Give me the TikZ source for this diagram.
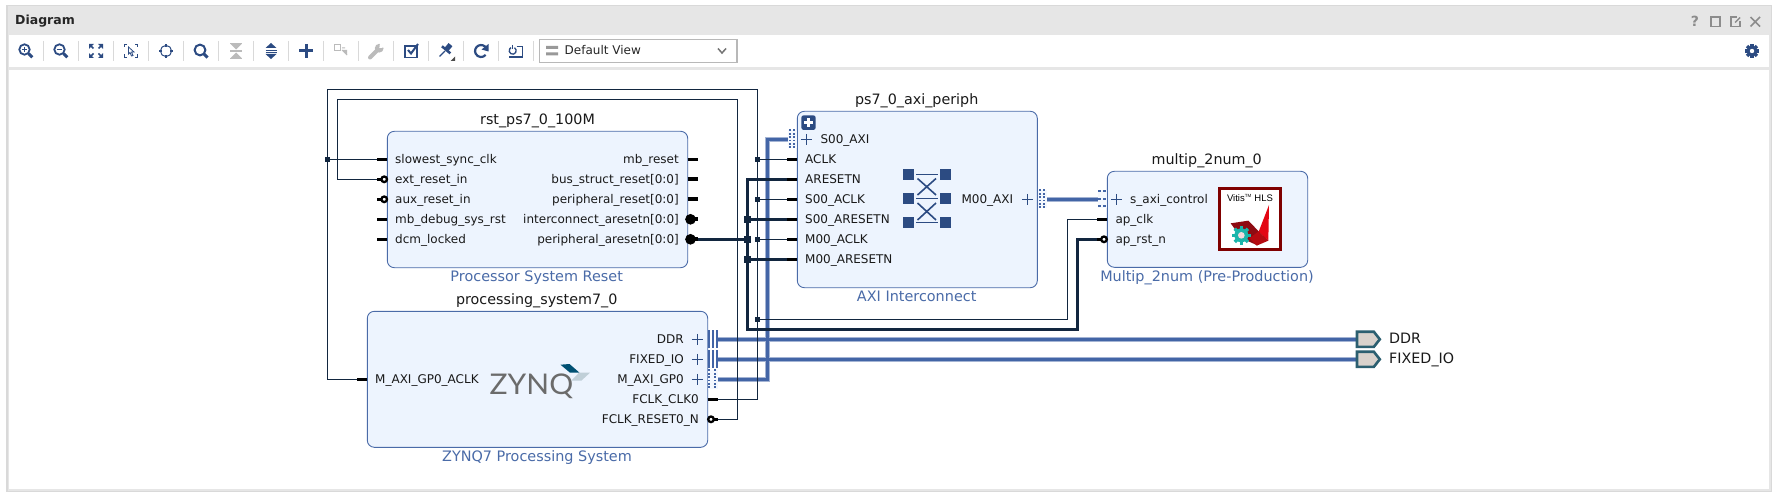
\documentclass[tikz,border=0pt]{standalone}
\usepackage{fontspec}
\setmainfont{DejaVu Sans}
\newfontfamily\logofont{Lato}
\newfontfamily\vitisfont{Liberation Sans}
\definecolor{blk}{HTML}{EDF4FE}
\definecolor{edgeb}{HTML}{4A6BA8}
\definecolor{thinw}{HTML}{12263F}
\definecolor{busw}{HTML}{4365A6}
\definecolor{hal}{HTML}{A4B4D4}
\definecolor{ico}{HTML}{2C4B82}
\definecolor{gic}{HTML}{BBBBBB}
\definecolor{hdr}{HTML}{E6E6E6}
\definecolor{hdrp}{HTML}{2C5F70}
\definecolor{hdrf}{HTML}{D9D2CC}
\definecolor{zteal}{HTML}{005073}
\definecolor{zpale}{HTML}{C0CFD8}
\definecolor{vmaroon}{HTML}{800000}
\definecolor{vdark}{HTML}{8E0B12}
\definecolor{vbright}{HTML}{E30613}
\definecolor{vmid}{HTML}{B50A10}
\definecolor{vgear}{HTML}{1AB5AB}
\definecolor{vhole}{HTML}{F3D9DC}
\tikzset{
 block/.style={draw=edgeb,fill=blk,line width=0.9,rounded corners=7,inner sep=0},
 title/.style={font=\fontsize{14.3}{16}\selectfont,text=black!90,inner sep=0,anchor=mid,yshift=-1.8pt},
 subtitle/.style={font=\fontsize{14.4}{16}\selectfont,text=edgeb,inner sep=0,anchor=mid,yshift=-1.8pt},
 lbl/.style={font=\fontsize{12}{14}\selectfont,text=black!90,inner sep=0,yshift=-1pt},
 lw/.style={lbl,anchor=mid west},
 le/.style={lbl,anchor=mid east},
 stub/.style={draw=black,line width=3},
 wirethin/.style={draw=thinw,line width=1},
 wirethick/.style={draw=thinw,line width=3.2,line join=miter},
 bushalo/.style={draw=hal,line width=5.2,line join=miter},
 buscore/.style={draw=busw,line width=3.2,line join=miter},
 jthin/.style={fill=thinw,minimum size=5,inner sep=0},
 jthick/.style={fill=thinw,minimum size=7,inner sep=0},
 invpin/.style={circle,draw=black,fill=white,line width=2.3,minimum size=5.6,inner sep=0},
 invbus/.style={circle,draw=black,fill=black,line width=1,minimum size=9.6,inner sep=0},
 plusi/.style={draw=ico,line width=0.9},
 ic/.style={draw=ico,line width=1.8},
 gi/.style={draw=gic,line width=1.8},
 port/.style={draw=hdrp,fill=hdrf,line width=2.6,line join=miter},
 extl/.style={anchor=mid west,inner sep=0,font=\fontsize{14.3}{16}\selectfont,text=black!90,yshift=-1.8pt},
}
\begin{document}
\begin{tikzpicture}[x=1pt,y=-1pt]
\useasboundingbox (0,0) rectangle (1778,497);
\fill[white] (0,0) rectangle (1778,497);
% frame
\fill[black!15] (6,5) rectangle (1772,492);
\fill[hdr] (7.5,6.5) rectangle (1770.5,490.5);
\fill[white] (9,35) rectangle (1769,67);
\fill[white] (9,70) rectangle (1769,489);
\node[anchor=mid west,inner sep=0,font=\bfseries\fontsize{12.5}{14}\selectfont,text=black!85] (dtitle) at (15,21.5) {Diagram};
% window buttons
\node[inner sep=0,font=\bfseries\fontsize{14}{16}\selectfont,text=black!45] (qm) at (1695,21.5) {?};
\draw[black!45,line width=1.6] (1711,17) rectangle (1720,26.5);
\draw[black!45,line width=1.6] (1737,17) -- (1731,17) -- (1731,26.5) -- (1740,26.5) -- (1740,21);
\draw[black!45,line width=1.4] (1735,22.5) -- (1740,17.5);
\draw[black!45,line width=1.6] (1750.5,17) -- (1760,26.5) (1760,17) -- (1750.5,26.5);
% gear
\begin{scope}[shift={(1752,51)}]
\foreach \a in {0,45,...,315}{\fill[ico,rotate=\a] (-1.7,-7) rectangle (1.7,0);}
\fill[ico] (0,0) circle (5.3);
\fill[white] (0,0) circle (2.2);
\end{scope}
% toolbar separators
\foreach \x in {43.5,78.5,113.5,148.5,183.5,218.5,253.5,288.5,323.5,358.5,393.5,428.5,463.5,498.5,533.5}{\draw[black!15,line width=.9] (\x,41) -- (\x,61);}
% zoom in
\begin{scope}[shift={(26,51)}]
\draw[ic] (-1.5,-1.5) circle (5.2);\draw[ic,line width=3] (2.6,2.6) -- (6.3,6.3);
\draw[ico,line width=1.2] (-4.2,-1.5) -- (1.2,-1.5) (-1.5,-4.2) -- (-1.5,1.2);
\end{scope}
% zoom out
\begin{scope}[shift={(61,51)}]
\draw[ic] (-1.5,-1.5) circle (5.2);\draw[ic,line width=3] (2.6,2.6) -- (6.3,6.3);
\draw[ico,line width=1.2] (-4.2,-1.5) -- (1.2,-1.5);
\end{scope}
% fit
\begin{scope}[shift={(96,51)}]
\foreach \sx/\sy in {1/1,1/-1,-1/1,-1/-1}{
\fill[ico] (\sx*7,\sy*7) -- (\sx*2.2,\sy*7) -- (\sx*7,\sy*2.2) -- cycle;
\draw[ico,line width=1.6] (\sx*5,\sy*5) -- (\sx*2.5,\sy*2.5);}
\end{scope}
% fit selection
\begin{scope}[shift={(131,51)}]
\foreach \sx/\sy in {1/1,1/-1,-1/1,-1/-1}{
\draw[ico,line width=1.3] (\sx*4,\sy*6.5) -- (\sx*6.5,\sy*6.5) -- (\sx*6.5,\sy*3.5);}
\draw[ico,line width=.8] (-2.5,-4) -- (3,1) -- (.5,1) -- (2,4.5) -- (.5,5) -- (-1,1.5) -- (-2.5,3) -- cycle;
\end{scope}
% centre
\begin{scope}[shift={(166,51)}]
\draw[ico,line width=1] (0,0) circle (5.6);
\foreach \a in {0,90,180,270}{\draw[ico,line width=1.8,rotate=\a] (4,0) -- (7,0);}
\end{scope}
% search
\begin{scope}[shift={(201,51)}]
\draw[ic,line width=2] (-1,-1) circle (5.4);\draw[ic,line width=3] (3,3) -- (6.5,6.5);
\end{scope}
% collapse
\begin{scope}[shift={(236,51)}]
\fill[gic] (-5.5,-7) -- (5.5,-7) -- (0,-1.5) -- cycle;
\fill[gic] (-5.5,7) -- (5.5,7) -- (0,1.5) -- cycle;
\draw[gic,line width=1.2] (-6,0) -- (6,0) (-6,-7.5) -- (6,-7.5) (-6,7.5) -- (6,7.5);
\end{scope}
% expand
\begin{scope}[shift={(271,51)}]
\fill[ico] (-5.5,-3) -- (5.5,-3) -- (0,-8) -- cycle;
\fill[ico] (-5.5,3) -- (5.5,3) -- (0,8) -- cycle;
\draw[ico,line width=.9] (-5.5,-1) -- (5.5,-1) (-5.5,1) -- (5.5,1);
\end{scope}
% add
\draw[ico,line width=3] (299,51) -- (313,51) (306,44) -- (306,58);
% gray diagonal
\begin{scope}[shift={(341,51)}]
\draw[gic,line width=1] (-6.5,-6) rectangle (-.5,0);
\draw[gic,line width=1] (1,-3) -- (4,-3) (1,-1) -- (6,4);
\fill[gic] (1,-1) -- (6,-1) -- (6,4) -- cycle;
\end{scope}
% wrench
\begin{scope}[shift={(376,51)}]
\draw[gi,line width=4,line cap=round] (-6,6.5) -- (1.5,-1);
\fill[gic] (3.2,-2.8) circle (4.4);
\fill[white] (3.4,-3) -- (8.5,-3.5) -- (8,-8) -- (4,-8) -- cycle;
\end{scope}
% check
\begin{scope}[shift={(411,51)}]
\draw[ico,line width=1.5] (-6,-5) rectangle (6,6.5);
\draw[ico,line width=2] (-3,-1) -- (0,2.5) -- (7,-7);
\end{scope}
% pin
\begin{scope}[shift={(446,50)}]
\fill[ico,rotate=-40] (-2.5,-7) rectangle (2.5,-1);
\fill[ico,rotate=-40] (-5.5,-1.5) rectangle (5.5,1);
\draw[ico,line width=1.3] (-1,1) -- (-6.5,6.5);
\fill[black!70] (9,6.5) -- (9,11) -- (4.5,11) -- cycle;
\end{scope}
% refresh
\begin{scope}[shift={(481,51)}]
\draw[ic,line width=2.2] (5.5,-2.5) arc (-25:-320:6);
\fill[ico] (7.5,-7) -- (7.5,.5) -- (.5,-1.5) -- cycle;
\end{scope}
% regenerate
\begin{scope}[shift={(516,51)}]
\draw[ico,line width=1.3] (-1.55,-3.33) arc (-60:240:3.5);
\draw[ico,line width=1.3] (-3.3,-6) -- (-3.3,-2);
\draw[ico,line width=1.6] (.7,-4.3) -- (6.3,-4.3) -- (6.3,6.3) -- (-7,6.3);
\end{scope}
% dropdown
\draw[black!28,line width=1.2,fill=white] (539.5,39.5) rectangle (737,62.3);
\fill[black!40] (546,46) rectangle (558,49) (546,52.5) rectangle (558,55.5);
\node[anchor=mid west,inner sep=0,font=\fontsize{12}{14}\selectfont,text=black!85] (view) at (564.5,52) {Default View};
\draw[black!55,line width=1.5] (718,48.5) -- (722,53) -- (726,48.5);

% blocks
\node[block,minimum width=300.4,minimum height=136.4] (rst) at (537.5,199.5) {};
\node[block,minimum width=340.4,minimum height=136] (ps) at (537.5,379.3) {};
\node[block,minimum width=240,minimum height=176.4] (axi) at (917.3,199.5) {};
\node[block,minimum width=200.4,minimum height=96] (mul) at (1207.5,219.3) {};

% pin and route coordinates
\coordinate (pclk) at (377.3,159.3);
\coordinate (pext) at (377.3,179.3);
\coordinate (pgp) at (357.3,379.3);
\coordinate (pfclk) at (717.7,399.3);
\coordinate (pfrst) at (717.7,419.3);
\coordinate (ppa) at (697.7,239.3);
\coordinate (pddr) at (718,339.3);
\coordinate (pfix) at (718,359.3);
\coordinate (pgp0) at (718,379.3);
\coordinate (ps00) at (788,139.3);
\coordinate (pm00) at (1047,199.3);
\coordinate (pcontrol) at (1098,199.3);
\coordinate (paclk) at (787.3,159.3);
\coordinate (pares) at (787.3,179.3);
\coordinate (psclk) at (787.3,199.3);
\coordinate (psres) at (787.3,219.3);
\coordinate (pmclk) at (787.3,239.3);
\coordinate (pmres) at (787.3,259.3);
\coordinate (papclk) at (1097.3,219.3);
\coordinate (paprst) at (1097.3,239.3);
\coordinate (tddr) at (1357,339.3);
\coordinate (tfix) at (1357,359.3);
\coordinate (co1) at (757.7,89.3);
\coordinate (co2) at (327.3,89.3);
\coordinate (ci1) at (737.7,99.3);
\coordinate (ci2) at (337.3,99.3);
\coordinate (cb) at (767.7,139.3);
\coordinate (ctop) at (747.7,179.3);
\coordinate (cbot) at (747.7,329.3);
\coordinate (cr) at (1077.3,329.3);
\coordinate (cthin) at (1067.3,319.3);

% bus wires
\foreach \st in {bushalo,buscore}{
\draw[\st] (pddr) -- (tddr);
\draw[\st] (pfix) -- (tfix);
\draw[\st] (pgp0) -| (cb) -- (ps00);
\draw[\st] (pm00) -- (pcontrol);
}

% junctions
\node[jthin] (j1) at (327.3,159.3) {};
\node[jthin] (j2) at (757.7,159.3) {};
\node[jthin] (j3) at (757.7,199.3) {};
\node[jthin] (j4) at (757.7,239.3) {};
\node[jthin] (j5) at (757.7,319.3) {};
\node[jthick] (j6) at (747.7,219.3) {};
\node[jthick] (j7) at (747.7,239.3) {};
\node[jthick] (j8) at (747.7,259.3) {};

% thin wires
\draw[wirethin] (pfclk) -| (co1) -- (co2) -- (pgp -| co2) -- (pgp);
\draw[wirethin] (pfrst) -| (ci1) -- (ci2) |- (pext);
\draw[wirethin] (j1) -- (pclk);
\draw[wirethin] (j2) -- (paclk);
\draw[wirethin] (j3) -- (psclk);
\draw[wirethin] (j4) -- (pmclk);
\draw[wirethin] (j5) -| (cthin) |- (papclk);
% thick wires
\draw[wirethick] (pares) -- (ctop) -- (cbot) -- (cr) |- (paprst);
\draw[wirethick] (ppa) -- (j7);
\draw[wirethick] (j6) -- (psres);
\draw[wirethick] (j8) -- (pmres);

% stubs
\foreach \a in {159.3,179.3,199.3,219.3,239.3}{\draw[stub] (377.3,\a) -- (387.3,\a);}
\foreach \a in {159.3}{\draw[stub] (687.7,\a) -- (697.7,\a);}
\foreach \a in {179.3,199.3,219.3,239.3}{\draw[stub,line width=4] (687.7,\a) -- (697.7,\a);}
\foreach \a in {159.3,179.3,199.3,219.3,239.3,259.3}{\draw[stub] (787.3,\a) -- (797.3,\a);}
\draw[stub] (357.3,379.3) -- (367.3,379.3);
\draw[stub] (707.7,399.3) -- (717.7,399.3);
\draw[stub] (707.7,419.3) -- (717.7,419.3);
\draw[stub] (1097.3,219.3) -- (1107.3,219.3);
\draw[stub] (1097.3,239.3) -- (1107.3,239.3);
\node[invpin] (i1) at (384.2,179.3) {};
\node[invpin] (i2) at (384.2,199.3) {};
\node[invpin] (i3) at (711,419.3) {};
\node[invpin] (i4) at (1104,239.3) {};
\node[invbus] (i5) at (690.5,219.3) {};
\node[invbus] (i6) at (690.5,239.3) {};

% interface pins
\foreach \x in {708.6,712.6,716.6}{
\foreach \yy in {330,350}{\fill[busw] (\x-1,\yy) rectangle (\x+1,\yy+18);}}
\fill[blk!60!white] (707.5,370) rectangle (718,388.5);
\foreach \x in {709,714.5}{\foreach \d in {-9,-5.6,-2.2,1.2,4.6,8}{\fill[busw] (\x-1,379.3+\d-.9) rectangle (\x+1,379.3+\d+.9);}}
\fill[blk!60!white] (787.5,130) rectangle (797,148.5);
\foreach \x in {789.5,794}{\foreach \d in {-9,-5.6,-2.2,1.2,4.6,8}{\fill[busw] (\x-1,139.3+\d-.9) rectangle (\x+1,139.3+\d+.9);}}
\fill[blk!60!white] (1037.5,190) rectangle (1047,208.5);
\foreach \x in {1039.5,1044}{\foreach \d in {-9,-5.6,-2.2,1.2,4.6,8}{\fill[busw] (\x-1,199.3+\d-.9) rectangle (\x+1,199.3+\d+.9);}}
\fill[blk!60!white] (1098,190) rectangle (1107,208.5);
\foreach \x in {1099.5,1104.5}{\foreach \d in {-8,-.5,7}{\fill[busw] (\x-1.1,199.3+\d-1) rectangle (\x+1.1,199.3+\d+1);}}

% plus signs
\foreach \x/\y in {697.3/339.3,697.3/359.3,697.3/379.3,806.3/139.3,1027.7/199.3,1116.7/199.3}{
\draw[plusi] (\x-5.5,\y) -- (\x+5.5,\y) (\x,\y-5.5) -- (\x,\y+5.5);}

% texts
\node[title] (trst) at (537.5,120) {rst\_ps7\_0\_100M};
\node[subtitle] (srst) at (536.7,277) {Processor System Reset};
\node[lw] (l1) at (395,159.3) {slowest\_sync\_clk};
\node[lw] (l2) at (395,179.3) {ext\_reset\_in};
\node[lw] (l3) at (395,199.3) {aux\_reset\_in};
\node[lw] (l4) at (395,219.3) {mb\_debug\_sys\_rst};
\node[lw] (l5) at (395,239.3) {dcm\_locked};
\node[le] (r1) at (679,159.3) {mb\_reset};
\node[le] (r2) at (679,179.3) {bus\_struct\_reset[0:0]};
\node[le] (r3) at (679,199.3) {peripheral\_reset[0:0]};
\node[le] (r4) at (679,219.3) {interconnect\_aresetn[0:0]};
\node[le] (r5) at (679,239.3) {peripheral\_aresetn[0:0]};

\node[title] (tps) at (536.7,300) {processing\_system7\_0};
\node[subtitle] (sps) at (537,456.7) {ZYNQ7 Processing System};
\node[lw] (p1) at (375,379.3) {M\_AXI\_GP0\_ACLK};
\node[le] (p2) at (684,339.3) {DDR};
\node[le] (p3) at (684,359.3) {FIXED\_IO};
\node[le] (p4) at (684,379.3) {M\_AXI\_GP0};
\node[le] (p5) at (699,399.3) {FCLK\_CLK0};
\node[le] (p6) at (699,419.3) {FCLK\_RESET0\_N};
% zynq logo
\node[inner sep=0,font=\logofont\fontsize{28.5}{30}\selectfont,text=black!58,anchor=base west,xscale=1.05] (zq) at (489.5,394) {ZYNQ};
\fill[zteal] (560.5,364.7) -- (569.5,364) -- (579.5,372.7) -- (570,372.7) -- cycle;
\fill[zpale] (579,372.7) -- (590,372.7) -- (581.5,380.5) -- (571.5,380.5) -- cycle;

\node[title] (taxi) at (916.7,100) {ps7\_0\_axi\_periph};
\node[subtitle] (saxi) at (916.7,297) {AXI Interconnect};
\node[lw] (a0) at (820.3,139.3) {S00\_AXI};
\node[lw] (a1) at (805,159.3) {ACLK};
\node[lw] (a2) at (805,179.3) {ARESETN};
\node[lw] (a3) at (805,199.3) {S00\_ACLK};
\node[lw] (a4) at (805,219.3) {S00\_ARESETN};
\node[lw] (a5) at (805,239.3) {M00\_ACLK};
\node[lw] (a6) at (805,259.3) {M00\_ARESETN};
\node[le] (a7) at (1013.3,199.3) {M00\_AXI};
% expand button
\fill[ico,rounded corners=2.5] (801.3,115.3) rectangle (815.7,130);
\draw[white,line width=2.2] (804.3,122.6) -- (812.7,122.6) (808.5,118.4) -- (808.5,126.8);
% crossbar
\foreach \x in {908.7,945.3}{\foreach \y in {174.7,198.7,222.3}{\fill[ico] (\x-5.6,\y-5.6) rectangle (\x+5.6,\y+5.6);}}
\foreach \y in {174.3,198.7,222.7}{\draw[ico,line width=1.4] (916,\y) -- (938,\y);}
\draw[ico,line width=1.6] (917.5,178.5) -- (936,195) (936,178.5) -- (917.5,195);
\draw[ico,line width=1.6] (917.5,203) -- (936,220) (936,203) -- (917.5,220);

\node[title] (tmul) at (1206.7,160) {multip\_2num\_0};
\node[subtitle] (smul) at (1207,277) {Multip\_2num (Pre-Production)};
\node[lw] (m1) at (1130,199.3) {s\_axi\_control};
\node[lw] (m2) at (1115.3,219.3) {ap\_clk};
\node[lw] (m3) at (1115.3,239.3) {ap\_rst\_n};
% vitis logo
\draw[vmaroon,line width=2.7,fill=white] (1219.3,188.3) rectangle (1280.7,249.4);
\node[inner sep=0,font=\vitisfont\fontsize{9.5}{10}\selectfont] (vit) at (1250,198.4) {Vitis\textsuperscript{\fontsize{4.5}{5}\selectfont TM} HLS};
\begin{scope}[shift={(1200,170)},x=0.3333pt,y=-0.3333pt]
\fill[vdark] (92,160) -- (145,152) -- (180,188) -- (172,226) -- (125,205) -- cycle;
\fill[vbright] (176,185) -- (207,105) -- (205,212) -- cycle;
\fill[vmid] (148,205) -- (176,184) -- (205,212) -- (170,227) -- cycle;
\begin{scope}[shift={(124,196)}]
\foreach \a in {0,45,...,315}{\fill[vgear,rotate=\a] (-5,-28) rectangle (5,0);}
\fill[vgear] (0,0) circle (21);
\fill[vhole] (0,0) circle (10);
\end{scope}
\end{scope}

% external ports
\draw[port] (tddr) ++(0,-7.6) -- ++(16.8,0) -- ++(6,7.6) -- ++(-6,7.6) -- ++(-16.8,0) -- cycle;
\draw[port] (tfix) ++(0,-7.6) -- ++(16.8,0) -- ++(6,7.6) -- ++(-6,7.6) -- ++(-16.8,0) -- cycle;
\node[extl] (ddrl) at (1389,339.3) {DDR};
\node[extl] (fixl) at (1389,359.3) {FIXED\_IO};
\end{tikzpicture}
\end{document}
